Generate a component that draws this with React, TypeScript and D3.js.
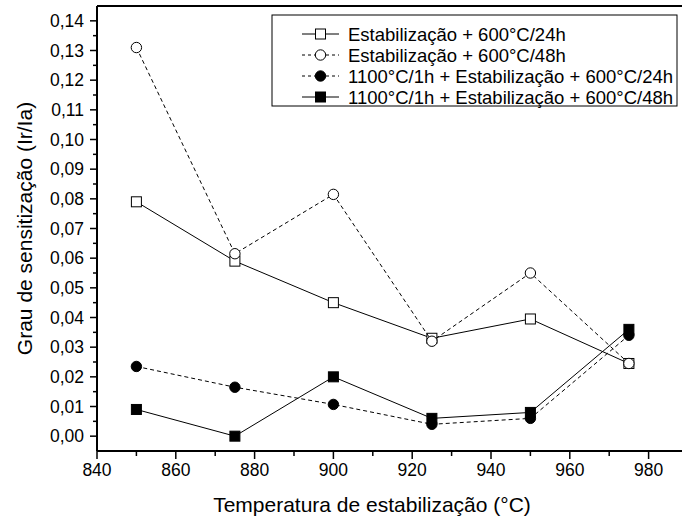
import React from "react";
import * as d3 from "d3";

const temps = [850, 875, 900, 925, 950, 975];
const estab24 = [0.079, 0.059, 0.045, 0.033, 0.0395, 0.0245];
const estab48 = [0.131, 0.0615, 0.0815, 0.032, 0.055, 0.0245];
const sol24 = [0.0235, 0.0165, 0.0107, 0.004, 0.006, 0.034];
const sol48 = [0.009, 0.0, 0.02, 0.006, 0.008, 0.036];

const seriesNames = [
  "Estabilização + 600°C/24h",
  "Estabilização + 600°C/48h",
  "1100°C/1h + Estabilização + 600°C/24h",
  "1100°C/1h + Estabilização + 600°C/48h",
];

const xTicks = [840, 860, 880, 900, 920, 940, 960, 980];
const yTicks = [0, 0.01, 0.02, 0.03, 0.04, 0.05, 0.06, 0.07, 0.08, 0.09, 0.1, 0.11, 0.12, 0.13, 0.14];

const W = 682;
const H = 521;
const margin = { left: 97, top: 6, right: -6, bottom: 70 };
const font = "Arial, 'Liberation Sans', sans-serif";

const series = [
  { name: seriesNames[0], values: estab24, dashed: false, shape: "square", filled: false },
  { name: seriesNames[1], values: estab48, dashed: true, shape: "circle", filled: false },
  { name: seriesNames[2], values: sol24, dashed: true, shape: "circle", filled: true },
  { name: seriesNames[3], values: sol48, dashed: false, shape: "square", filled: true },
];

const Marker = ({ shape, filled, x, y }) =>
  shape === "square" ? (
    <rect
      x={x - 5}
      y={y - 5}
      width={10}
      height={10}
      fill={filled ? "#000" : "#fff"}
      stroke="#000"
      strokeWidth={1}
    />
  ) : (
    <circle cx={x} cy={y} r={5.2} fill={filled ? "#000" : "#fff"} stroke="#000" strokeWidth={1} />
  );

export default function App() {
  const x = d3.scaleLinear().domain([840, 990]).range([margin.left, W - margin.right]);
  const y = d3.scaleLinear().domain([-0.005, 0.145]).range([H - margin.bottom, margin.top]);

  const line = d3
    .line<number>()
    .x((_, i) => x(temps[i]))
    .y((d) => y(d));

  const xMinor = d3.range(850, 990, 20);
  const yMinor = d3.range(0.005, 0.145, 0.01);

  const x0 = x.range()[0];
  const x1 = x.range()[1];
  const y0 = y.range()[0];
  const y1 = y.range()[1];

  const legendX = 272;
  const legendY = 15;
  const rowH = 21;

  return (
    <svg
      width={W}
      height={H}
      style={{ position: "absolute", left: 0, top: 0, background: "#fff" }}
      fontFamily={font}
    >
      {/* frame */}
      <line x1={x0} x2={x1} y1={y1} y2={y1} stroke="#000" strokeWidth={2} />
      <line x1={x0} x2={x0} y1={y1} y2={y0} stroke="#000" strokeWidth={2} />
      <line x1={x0} x2={x1} y1={y0} y2={y0} stroke="#000" strokeWidth={2} />

      {/* y ticks */}
      {yTicks.map((t) => (
        <g key={"y" + t}>
          <line x1={x0 - 7} x2={x0} y1={y(t)} y2={y(t)} stroke="#000" strokeWidth={1.5} />
          <text x={x0 - 13} y={y(t)} dy="0.36em" textAnchor="end" fontSize={17.5}>
            {d3.format(".2f")(t).replace(".", ",")}
          </text>
        </g>
      ))}
      {yMinor.map((t) => (
        <line key={"ym" + t} x1={x0 - 4} x2={x0} y1={y(t)} y2={y(t)} stroke="#000" strokeWidth={1.5} />
      ))}

      {/* x ticks */}
      {xTicks.map((t) => (
        <g key={"x" + t}>
          <line x1={x(t)} x2={x(t)} y1={y0} y2={y0 + 8} stroke="#000" strokeWidth={1.5} />
          <text x={x(t)} y={y0 + 25} textAnchor="middle" fontSize={17.5}>
            {t}
          </text>
        </g>
      ))}
      {xMinor.map((t) => (
        <line key={"xm" + t} x1={x(t)} x2={x(t)} y1={y0} y2={y0 + 5} stroke="#000" strokeWidth={1.5} />
      ))}

      {/* series */}
      {series.map((s) => (
        <g key={s.name}>
          <path
            d={line(s.values) || ""}
            fill="none"
            stroke="#000"
            strokeWidth={1}
            strokeDasharray={s.dashed ? "4,3" : undefined}
          />
          {s.values.map((v, i) => (
            <Marker key={i} shape={s.shape} filled={s.filled} x={x(temps[i])} y={y(v)} />
          ))}
        </g>
      ))}

      {/* legend */}
      <rect x={legendX} y={legendY} width={405} height={91} fill="#fff" stroke="#000" strokeWidth={1} />
      {series.map((s, i) => {
        const cy = legendY + 19 + i * rowH;
        return (
          <g key={"lg" + i}>
            <line
              x1={302}
              x2={339}
              y1={cy}
              y2={cy}
              stroke="#000"
              strokeWidth={1}
              strokeDasharray={s.dashed ? "3,3" : undefined}
            />
            <Marker shape={s.shape} filled={s.filled} x={320.5} y={cy} />
            <text x={348} y={cy} dy="0.36em" fontSize={18.5}>
              {s.name}
            </text>
          </g>
        );
      })}

      {/* axis titles */}
      <text x={372} y={512} textAnchor="middle" fontSize={21}>
        Temperatura de estabilização (°C)
      </text>
      <text
        transform={`translate(32,${(y0 + y1) / 2}) rotate(-90)`}
        textAnchor="middle"
        fontSize={21}
      >
        Grau de sensitização (Ir/Ia)
      </text>
    </svg>
  );
}
